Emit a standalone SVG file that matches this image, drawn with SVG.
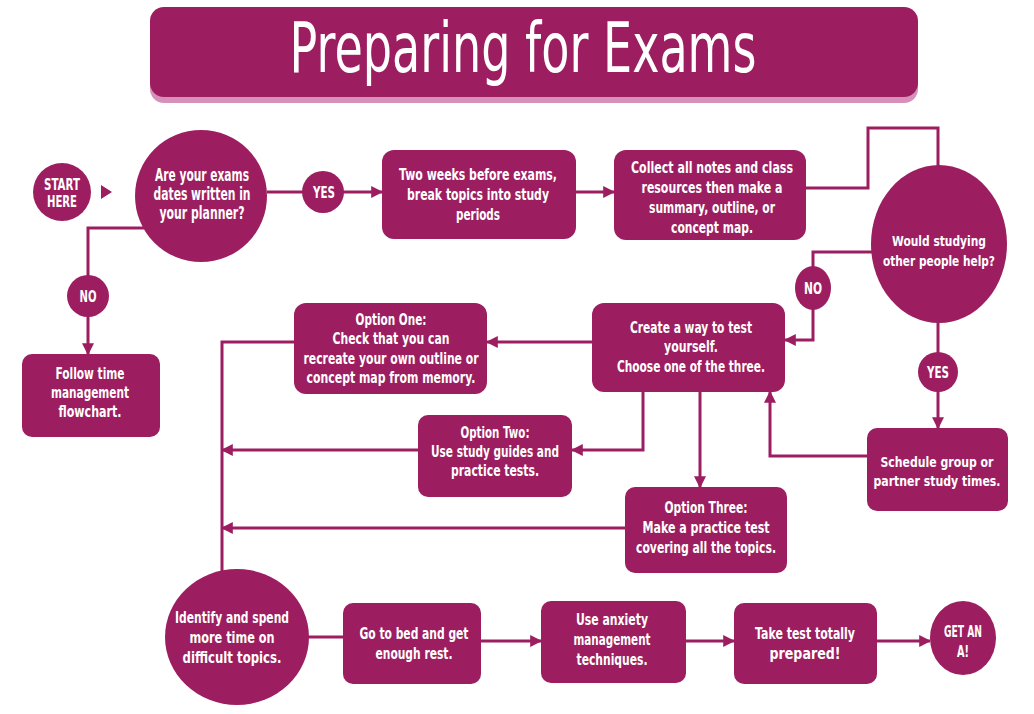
<svg xmlns="http://www.w3.org/2000/svg" width="1034" height="714" viewBox="0 0 1034 714">
<defs>
<marker id="ah" viewBox="0 0 10 10" refX="9" refY="5" markerWidth="4" markerHeight="4" orient="auto" markerUnits="strokeWidth">
<path d="M0,0 L10,5 L0,10 z" fill="#9c1e60"/>
</marker>
<style>
.n{fill:#9c1e60}
.t{fill:#fff;font-family:"DejaVu Sans",sans-serif;font-weight:bold;font-size:16px;text-anchor:middle}
.b{font-size:17px}
.s{font-size:14px}
.c{fill:none;stroke:#9c1e60;stroke-width:3}
.a{marker-end:url(#ah)}
</style>
</defs>
<rect width="1034" height="714" fill="#fff"/>
<g id="title">
<rect x="150" y="12" width="768" height="91" rx="14" fill="#d690b9"/>
<rect x="150" y="7" width="768" height="90" rx="14" class="n"/>
<text x="523" y="72" fill="#fff" font-family="DejaVu Sans, sans-serif" font-size="70" text-anchor="middle" textLength="467" lengthAdjust="spacingAndGlyphs">Preparing for Exams</text>
</g>
<g id="connectors">
<path class="c a" d="M267,192 H382"/>
<path class="c a" d="M576,192 H614"/>
<path class="c" d="M806,188 H868 V128 H938 V166"/>
<path class="c a" d="M874,252 H813 V340 H785"/>
<path class="c a" d="M938,320 V428"/>
<path class="c a" d="M867,456 H770 V392"/>
<path class="c a" d="M592,342 H487"/>
<path class="c" d="M294,342 H222 V572"/>
<path class="c a" d="M643,392 V450 H572"/>
<path class="c a" d="M418,450 H222"/>
<path class="c a" d="M700,392 V487"/>
<path class="c a" d="M625,528 H222"/>
<path class="c a" d="M150,228 H88 V354"/>
<path class="c" d="M308,637 H343"/>
<path class="c a" d="M481,641 H541"/>
<path class="c a" d="M686,641 H734"/>
<path class="c a" d="M877,641 H930"/>
<path class="n" d="M101,185 L112,192 L101,199 z"/>
</g>
<g id="start">
<circle cx="62" cy="192" r="29" class="n"/>
<text class="t" x="62" y="190" textLength="36" lengthAdjust="spacingAndGlyphs">START</text>
<text class="t" x="62" y="207" textLength="30" lengthAdjust="spacingAndGlyphs">HERE</text>
</g>
<g id="q1">
<circle cx="201" cy="196" r="66" class="n"/>
<text class="t b" x="202" y="181" textLength="94" lengthAdjust="spacingAndGlyphs">Are your exams</text>
<text class="t b" x="202" y="200" textLength="97" lengthAdjust="spacingAndGlyphs">dates written in</text>
<text class="t b" x="202" y="219" textLength="85" lengthAdjust="spacingAndGlyphs">your planner?</text>
</g>
<g id="yes1">
<circle cx="323" cy="192" r="21" class="n"/>
<text class="t" x="324" y="198" textLength="22" lengthAdjust="spacingAndGlyphs">YES</text>
</g>
<g id="no1">
<circle cx="88" cy="296" r="21" class="n"/>
<text class="t" x="88" y="302" textLength="17" lengthAdjust="spacingAndGlyphs">NO</text>
</g>
<g id="follow">
<rect x="22" y="354" width="138" height="83" rx="10" class="n"/>
<text class="t" x="90" y="379" textLength="69" lengthAdjust="spacingAndGlyphs">Follow time</text>
<text class="t" x="90" y="398" textLength="78" lengthAdjust="spacingAndGlyphs">management</text>
<text class="t" x="90" y="417" textLength="63" lengthAdjust="spacingAndGlyphs">flowchart.</text>
</g>
<g id="twoweeks">
<rect x="382" y="150" width="194" height="89" rx="12" class="n"/>
<text class="t" x="478" y="180" textLength="158" lengthAdjust="spacingAndGlyphs">Two weeks before exams,</text>
<text class="t" x="478" y="200" textLength="142" lengthAdjust="spacingAndGlyphs">break topics into study</text>
<text class="t" x="478" y="220" textLength="44" lengthAdjust="spacingAndGlyphs">periods</text>
</g>
<g id="collect">
<rect x="614" y="150" width="192" height="90" rx="12" class="n"/>
<text class="t" x="712" y="173" textLength="162" lengthAdjust="spacingAndGlyphs">Collect all notes and class</text>
<text class="t" x="712" y="193" textLength="141" lengthAdjust="spacingAndGlyphs">resources then make a</text>
<text class="t" x="712" y="213" textLength="126" lengthAdjust="spacingAndGlyphs">summary, outline, or</text>
<text class="t" x="712" y="233" textLength="82" lengthAdjust="spacingAndGlyphs">concept map.</text>
</g>
<g id="q2">
<ellipse cx="939" cy="244" rx="68" ry="79" class="n"/>
<text class="t s" x="939" y="246" textLength="94" lengthAdjust="spacingAndGlyphs">Would studying</text>
<text class="t s" x="939" y="266" textLength="112" lengthAdjust="spacingAndGlyphs">other people help?</text>
</g>
<g id="no2">
<ellipse cx="813" cy="288" rx="18" ry="22" class="n"/>
<text class="t" x="813" y="294" textLength="18" lengthAdjust="spacingAndGlyphs">NO</text>
</g>
<g id="yes2">
<circle cx="938" cy="372" r="20" class="n"/>
<text class="t" x="938" y="378" textLength="22" lengthAdjust="spacingAndGlyphs">YES</text>
</g>
<g id="schedule">
<rect x="867" y="428" width="141" height="83" rx="10" class="n"/>
<text class="t s" x="937" y="467" textLength="113" lengthAdjust="spacingAndGlyphs">Schedule group or</text>
<text class="t s" x="937" y="486" textLength="127" lengthAdjust="spacingAndGlyphs">partner study times.</text>
</g>
<g id="create">
<rect x="592" y="303" width="193" height="89" rx="12" class="n"/>
<text class="t" x="691" y="333" textLength="122" lengthAdjust="spacingAndGlyphs">Create a way to test</text>
<text class="t" x="691" y="352" textLength="54" lengthAdjust="spacingAndGlyphs">yourself.</text>
<text class="t" x="691" y="372" textLength="148" lengthAdjust="spacingAndGlyphs">Choose one of the three.</text>
</g>
<g id="opt1">
<rect x="294" y="303" width="193" height="91" rx="12" class="n"/>
<text class="t" x="391" y="325" textLength="71" lengthAdjust="spacingAndGlyphs">Option One:</text>
<text class="t" x="391" y="344" textLength="117" lengthAdjust="spacingAndGlyphs">Check that you can</text>
<text class="t" x="391" y="364" textLength="175" lengthAdjust="spacingAndGlyphs">recreate your own outline or</text>
<text class="t" x="391" y="383" textLength="169" lengthAdjust="spacingAndGlyphs">concept map from memory.</text>
</g>
<g id="opt2">
<rect x="418" y="415" width="154" height="82" rx="10" class="n"/>
<text class="t" x="495" y="438" textLength="69" lengthAdjust="spacingAndGlyphs">Option Two:</text>
<text class="t" x="495" y="457" textLength="128" lengthAdjust="spacingAndGlyphs">Use study guides and</text>
<text class="t" x="495" y="476" textLength="88" lengthAdjust="spacingAndGlyphs">practice tests.</text>
</g>
<g id="opt3">
<rect x="625" y="487" width="162" height="86" rx="10" class="n"/>
<text class="t" x="706" y="513" textLength="83" lengthAdjust="spacingAndGlyphs">Option Three:</text>
<text class="t" x="706" y="533" textLength="127" lengthAdjust="spacingAndGlyphs">Make a practice test</text>
<text class="t" x="706" y="553" textLength="140" lengthAdjust="spacingAndGlyphs">covering all the topics.</text>
</g>
<g id="identify">
<ellipse cx="237" cy="637" rx="72" ry="68" class="n"/>
<text class="t" x="232" y="623" textLength="114" lengthAdjust="spacingAndGlyphs">Identify and spend</text>
<text class="t" x="232" y="643" textLength="85" lengthAdjust="spacingAndGlyphs">more time on</text>
<text class="t" x="232" y="663" textLength="99" lengthAdjust="spacingAndGlyphs">difficult topics.</text>
</g>
<g id="bed">
<rect x="343" y="603" width="138" height="81" rx="10" class="n"/>
<text class="t" x="414" y="639" textLength="109" lengthAdjust="spacingAndGlyphs">Go to bed and get</text>
<text class="t" x="414" y="659" textLength="77" lengthAdjust="spacingAndGlyphs">enough rest.</text>
</g>
<g id="anxiety">
<rect x="541" y="601" width="145" height="82" rx="10" class="n"/>
<text class="t" x="612" y="625" textLength="72" lengthAdjust="spacingAndGlyphs">Use anxiety</text>
<text class="t" x="612" y="645" textLength="77" lengthAdjust="spacingAndGlyphs">management</text>
<text class="t" x="612" y="665" textLength="71" lengthAdjust="spacingAndGlyphs">techniques.</text>
</g>
<g id="taketest">
<rect x="734" y="603" width="143" height="81" rx="10" class="n"/>
<text class="t" x="805" y="639" textLength="100" lengthAdjust="spacingAndGlyphs">Take test totally</text>
<text class="t" x="805" y="659" textLength="71" lengthAdjust="spacingAndGlyphs">prepared!</text>
</g>
<g id="geta">
<ellipse cx="963" cy="638" rx="33" ry="37" class="n"/>
<text class="t" x="963" y="637" textLength="38" lengthAdjust="spacingAndGlyphs">GET AN</text>
<text class="t" x="963" y="657" textLength="12" lengthAdjust="spacingAndGlyphs">A!</text>
</g>
</svg>
